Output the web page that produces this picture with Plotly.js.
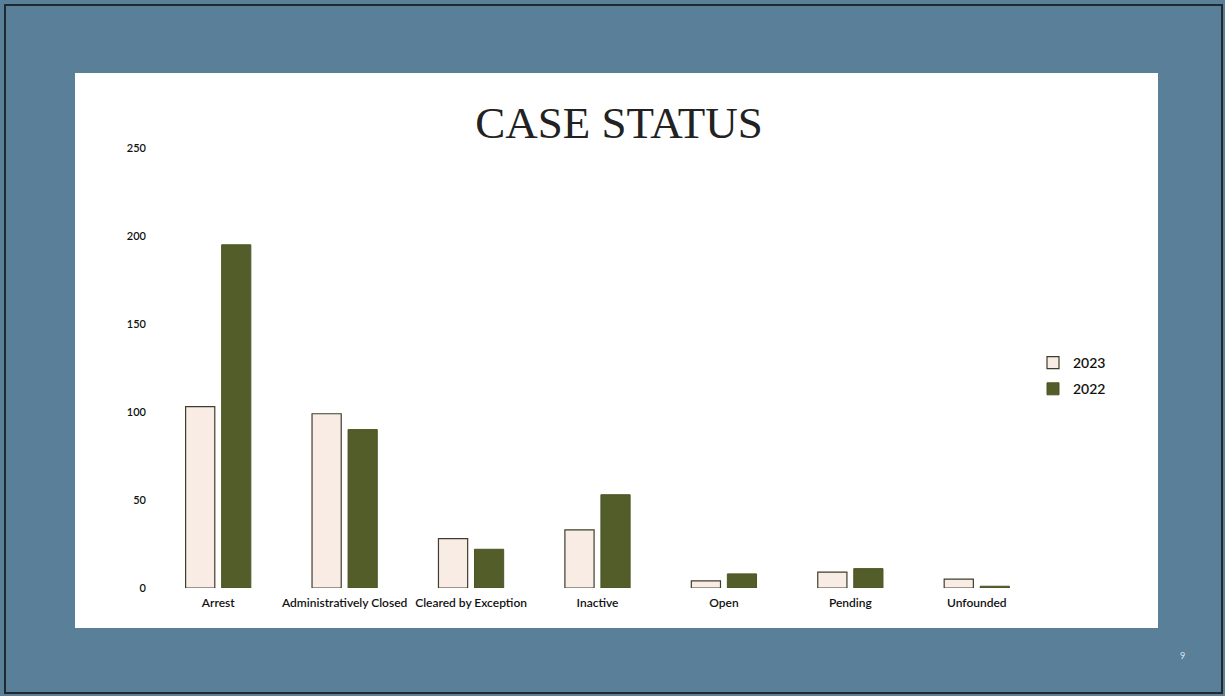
<!DOCTYPE html>
<html>
<head>
<meta charset="utf-8">
<script src="https://cdn.plot.ly/plotly-3.0.1.min.js"></script>
<style>
html,body{margin:0;padding:0;background:#5a7f98;}
#chart{width:1225px;height:696px;}
</style>
</head>
<body>
<div id="chart"></div>
<script>
const categories = ["Arrest", "Administratively Closed", "Cleared by Exception", "Inactive", "Open", "Pending", "Unfounded"];
const values2023 = [103, 99, 28, 33, 4, 9, 5];
const values2022 = [195, 90, 22, 53, 8, 11, 1];
const seriesNames = ["2023", "2022"];
const yTicks = [0, 50, 100, 150, 200, 250];

const W = 1225, H = 696;
const M = {l: 155, r: 185, t: 148, b: 108};
const PW = W - M.l - M.r, PH = H - M.t - M.b;
const px = v => (v - M.l) / PW;
const py = v => (H - M.b - v) / PH;

const xFont = {family: "Lato, 'Open Sans', sans-serif", size: 12, color: "#111111", weight: 600};
const yFont = {family: "Lato, 'Open Sans', sans-serif", size: 11, color: "#111111", weight: 600};

const traces = [
  {
    type: "bar", name: seriesNames[0], x: categories, y: values2023,
    legendgroup: "a",
    marker: {color: "#f8ece4", line: {color: "#3e3e2c", width: 1.2}},
    hoverinfo: "x+y+name"
  },
  {
    type: "bar", name: seriesNames[1], x: categories, y: values2022,
    legendgroup: "b",
    marker: {color: "#535d29", line: {color: "#4b5524", width: 1}},
    hoverinfo: "x+y+name"
  }
];

const layout = {
  width: W, height: H,
  margin: M,
  paper_bgcolor: "#5a7f98",
  plot_bgcolor: "rgba(0,0,0,0)",
  barmode: "group",
  bargap: 0.43,
  bargroupgap: 0.19,
  title: {
    text: "CASE STATUS",
    font: {family: "'Liberation Serif', 'Times New Roman', serif", size: 45, color: "#222222"},
    x: 619 / W, xanchor: "center", xref: "container",
    y: 1 - 122 / H, yanchor: "middle", yref: "container"
  },
  xaxis: {
    type: "category",
    showgrid: false, zeroline: false, showline: false,
    ticks: "", tickfont: xFont,
    ticklabelstandoff: 6,
    fixedrange: true
  },
  yaxis: {
    range: [0, 250],
    tickvals: yTicks,
    ticktext: yTicks.map(String),
    showgrid: false, zeroline: false, showline: false,
    ticks: "", tickfont: yFont,
    ticklabelstandoff: 8,
    fixedrange: true
  },
  legend: {
    x: px(1033), xanchor: "left",
    y: py(347), yanchor: "top",
    font: {family: "Lato, 'Open Sans', sans-serif", size: 14, color: "#111111", weight: 600},
    bgcolor: "rgba(0,0,0,0)",
    traceorder: "grouped",
    tracegroupgap: 5,
    itemwidth: 30
  },
  shapes: [
    {type: "rect", xref: "paper", yref: "paper", layer: "below",
     x0: px(75), x1: px(1158), y0: py(628), y1: py(73),
     fillcolor: "#ffffff", line: {width: 0}},
    {type: "rect", xref: "paper", yref: "paper", layer: "above",
     x0: px(5), x1: px(1222), y0: py(693), y1: py(5),
     fillcolor: "rgba(0,0,0,0)", line: {color: "#1e2a30", width: 2}}
  ],
  annotations: [
    {text: "9", xref: "paper", yref: "paper", x: px(1187), y: py(663),
     showarrow: false, font: {family: "Lato, sans-serif", size: 9, color: "#dfe6ea"}}
  ]
};

Plotly.newPlot("chart", traces, layout, {displayModeBar: false, staticPlot: true});
</script>
</body>
</html>
